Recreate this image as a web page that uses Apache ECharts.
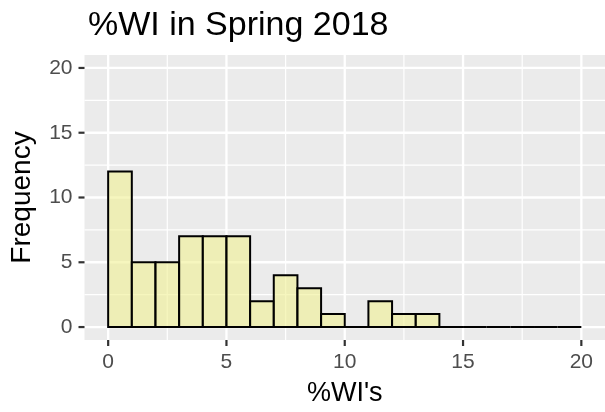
<!DOCTYPE html>
<html>
<head>
<meta charset="utf-8">
<script src="https://cdn.jsdelivr.net/npm/echarts@6/dist/echarts.min.js"></script>
<style>
  html, body { margin: 0; padding: 0; background: #ffffff; }
  #chart { width: 605px; height: 412px; }
</style>
</head>
<body>
<div id="chart"></div>
<script>
// Histogram of %WI values, bins of width 1 from 0 to 20
const binStart = [0, 1, 2, 3, 4, 5, 6, 7, 8, 9, 10, 11, 12, 13, 14, 15, 16, 17, 18, 19];
const binEnd   = [1, 2, 3, 4, 5, 6, 7, 8, 9, 10, 11, 12, 13, 14, 15, 16, 17, 18, 19, 20];
const counts   = [12, 5, 5, 7, 7, 7, 2, 4, 3, 1, 0, 2, 1, 1, 0, 0, 0, 0, 0, 0];

const xTicks = [0, 5, 10, 15, 20];
const yTicks = [0, 5, 10, 15, 20];
const xMinor = [2.5, 7.5, 12.5, 17.5];
const yMinor = [2.5, 7.5, 12.5, 17.5];

const titleText = '%WI in Spring 2018';
const xTitle = "%WI's";
const yTitle = 'Frequency';

const FONT = '"Liberation Sans", Arial, Helvetica, sans-serif';

// grid lines: [value, axis (0 = x, 1 = y), major flag]
const gridLines = [];
xTicks.forEach(v => gridLines.push([v, 0, 1]));
xMinor.forEach(v => gridLines.push([v, 0, 0]));
yTicks.forEach(v => gridLines.push([v, 1, 1]));
yMinor.forEach(v => gridLines.push([v, 1, 0]));

// tick marks outside the panel: [value, axis]
const tickMarks = [];
xTicks.forEach(v => tickMarks.push([v, 0]));
yTicks.forEach(v => tickMarks.push([v, 1]));

const bars = binStart.map((s, i) => [s, binEnd[i], counts[i]]);

const chart = echarts.init(document.getElementById('chart'), null, { renderer: 'canvas' });

chart.setOption({
  animation: false,
  backgroundColor: '#ffffff',
  title: {
    text: titleText,
    left: 83,
    top: 4,
    textStyle: { fontFamily: FONT, fontSize: 34, fontWeight: 'normal', color: '#000000' }
  },
  grid: {
    left: 84.5, right: 0, top: 55, bottom: 71,
    show: true, backgroundColor: '#EBEBEB', borderWidth: 0
  },
  xAxis: {
    type: 'value', min: -1, max: 21,
    name: xTitle, nameLocation: 'middle', nameGap: 40,
    nameTextStyle: { fontFamily: FONT, fontSize: 27, color: '#000000' },
    axisLine: { show: false },
    splitLine: { show: false },
    axisTick: { show: false },
    axisLabel: { customValues: xTicks, margin: 12, fontFamily: FONT, fontSize: 21, color: '#4D4D4D' }
  },
  yAxis: {
    type: 'value', min: -1, max: 21,
    name: yTitle, nameLocation: 'middle', nameGap: 48, nameRotate: 90,
    nameTextStyle: { fontFamily: FONT, fontSize: 28, color: '#000000' },
    axisLine: { show: false },
    splitLine: { show: false },
    axisTick: { show: false },
    axisLabel: { customValues: yTicks, margin: 12, fontFamily: FONT, fontSize: 21, color: '#4D4D4D' }
  },
  series: [
    {
      // panel grid lines
      type: 'custom',
      z: 1,
      silent: true,
      data: gridLines,
      renderItem: function (params, api) {
        const cs = params.coordSys;
        const v = api.value(0);
        const isY = api.value(1) === 1;
        const major = api.value(2) === 1;
        let shape;
        if (isY) {
          const p = api.coord([0, v]);
          shape = { x1: cs.x, y1: p[1], x2: cs.x + cs.width, y2: p[1] };
        } else {
          const p = api.coord([v, 0]);
          shape = { x1: p[0], y1: cs.y, x2: p[0], y2: cs.y + cs.height };
        }
        return {
          type: 'line',
          shape: shape,
          style: { stroke: '#FFFFFF', lineWidth: major ? 2.3 : 1.2 }
        };
      }
    },
    {
      // axis tick marks
      type: 'custom',
      z: 3,
      silent: true,
      clip: false,
      data: tickMarks,
      renderItem: function (params, api) {
        const cs = params.coordSys;
        const v = api.value(0);
        const isY = api.value(1) === 1;
        let shape;
        if (isY) {
          const p = api.coord([0, v]);
          shape = { x1: cs.x - 6, y1: p[1], x2: cs.x, y2: p[1] };
        } else {
          const p = api.coord([v, 0]);
          const yb = cs.y + cs.height;
          shape = { x1: p[0], y1: yb, x2: p[0], y2: yb + 6 };
        }
        return {
          type: 'line',
          shape: shape,
          style: { stroke: '#333333', lineWidth: 2.2 }
        };
      }
    },
    {
      // histogram bars
      type: 'custom',
      z: 2,
      data: bars,
      renderItem: function (params, api) {
        const p0 = api.coord([api.value(0), 0]);
        const p1 = api.coord([api.value(1), api.value(2)]);
        return {
          type: 'rect',
          shape: { x: p0[0], y: p1[1], width: p1[0] - p0[0], height: p0[1] - p1[1] },
          style: { fill: 'rgba(240, 240, 150, 0.62)', stroke: '#000000', lineWidth: 2 }
        };
      }
    }
  ]
});
</script>
</body>
</html>
